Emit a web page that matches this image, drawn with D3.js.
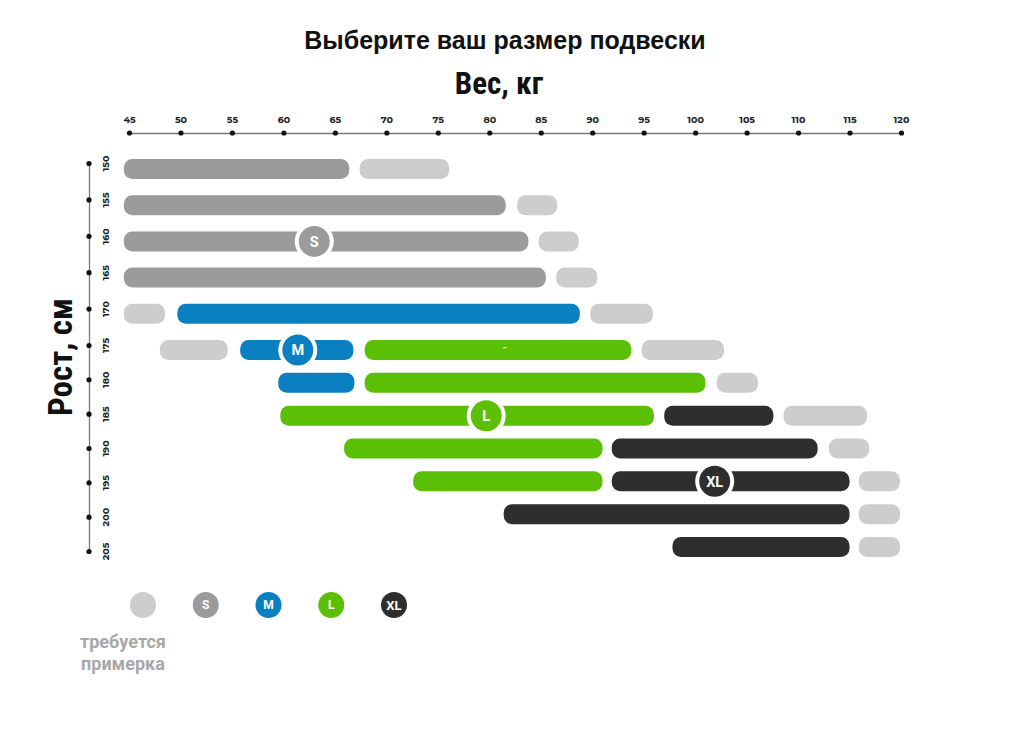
<!DOCTYPE html>
<html><head><meta charset="utf-8">
<script src="https://cdn.jsdelivr.net/npm/d3@7"></script>
<style>html,body{margin:0;padding:0;background:#fff;}svg{display:block;}</style>
</head><body>
<svg id="chart" width="1024" height="743"></svg>
<script>
// ---- data ----
const titleText = "Выберите ваш размер подвески";
const xTitle = "Вес, кг";
const yTitle = "Рост, см";
const weightTicks = [45,50,55,60,65,70,75,80,85,90,95,100,105,110,115,120];
const heightTicks = [150,155,160,165,170,175,180,185,190,195,200,205];
// segments: [height, startKg, endKg]
const fitSegs = [[150,67.4,76.1],[155,82.7,86.6],[160,84.8,88.7],[165,86.5,90.5],[170,44.5,48.5],[170,89.8,95.9],
  [175,48.0,54.6],[175,94.8,102.8],[180,102.1,106.1],[185,108.6,116.7],[190,113.0,116.9],[195,115.9,119.9],[200,115.9,119.9],[205,115.9,119.9]];
const sSegs = [[150,44.5,66.4],[155,44.5,81.6],[160,44.5,83.8],[165,44.5,85.5]];
const mSegs = [[170,49.7,88.8],[175,55.8,66.8],[180,59.5,66.9]];
const lSegs = [[175,67.9,93.8],[180,67.9,101.0],[185,59.7,96.0],[190,65.9,91.0],[195,72.6,91.0]];
const xlSegs = [[185,97.0,107.6],[190,91.9,111.9],[195,91.9,115.0],[200,81.4,115.0],[205,97.8,115.0]];
const badges = [[160,63.0,"S"],[175,61.4,"M"],[185,79.7,"L"],[195,101.9,"XL"]];
const legendKeys = ["fit","S","M","L","XL"];
const legendLabels = ["","S","M","L","XL"];
const fitNote = ["требуется","примерка"];

const colors = {fit:"#cdcdcd", S:"#9b9b9b", M:"#0b80c1", L:"#5bbf06", XL:"#2e2e2e"};

// ---- scales ----
const svg = d3.select("#chart");
const x = d3.scaleLinear().domain([45,120]).range([129,901]);
const yBar = d3.scaleLinear().domain([150,175,205]).range([169,350,547]);
const yTick = d3.scaleLinear().domain([150,175,205]).range([163,345,551]);
const narrow = "'Liberation Sans Narrow','Arial Narrow','Roboto Condensed',Roboto,sans-serif";

// title
svg.append("text").attr("x",505).attr("y",49).attr("text-anchor","middle")
  .attr("font-family","'Liberation Sans',Arial,sans-serif").attr("font-weight","bold").attr("font-size",25)
  .attr("fill","#111").text(titleText);
svg.append("text").attr("x",499).attr("y",94).attr("text-anchor","middle")
  .attr("font-family",narrow).attr("font-weight","bold").attr("font-size",31)
  .attr("fill","#111").text(xTitle);
svg.append("text").attr("transform","translate(72,357) rotate(-90)").attr("text-anchor","middle")
  .attr("font-family",narrow).attr("font-weight","bold").attr("font-size",33)
  .attr("fill","#111").text(yTitle);

// top axis
const xAxis = d3.axisTop(x).tickValues(weightTicks).tickSize(0).tickPadding(10);
const gx = svg.append("g").attr("transform","translate(0,133)").call(xAxis);
gx.select(".domain").attr("stroke","#777").attr("stroke-width",1.3);
gx.selectAll("text").attr("font-family","Montserrat,'Open Sans',sans-serif").attr("font-weight","bold")
  .attr("font-size",9.5).attr("fill","#222");
gx.selectAll(".tick").append("circle").attr("r",2.6).attr("fill","#111");

// left axis
const yAxis = d3.axisLeft(yTick).tickValues(heightTicks).tickSize(0).tickFormat("");
const gy = svg.append("g").attr("transform","translate(89,0)").call(yAxis);
gy.select(".domain").attr("stroke","#777").attr("stroke-width",1.3);
gy.selectAll(".tick").append("circle").attr("r",2.6).attr("fill","#111");
gy.selectAll(".tick").append("text").attr("transform","translate(17,0) rotate(-90)")
  .attr("text-anchor","middle").attr("dy","0.35em")
  .attr("font-family","Montserrat,'Open Sans',sans-serif").attr("font-weight","bold")
  .attr("font-size",9.5).attr("fill","#222").text(d=>d);

// bars
const groups = [["fit",fitSegs],["S",sSegs],["M",mSegs],["L",lSegs],["XL",xlSegs]];
const barH = 20;
groups.forEach(([k,segs])=>{
  svg.append("g").selectAll("rect").data(segs).join("rect")
    .attr("x",d=>x(d[1])).attr("width",d=>x(d[2])-x(d[1]))
    .attr("y",d=>yBar(d[0])-barH/2).attr("height",barH)
    .attr("rx",8.5).attr("fill",colors[k]);
});
// small stray mark on L bar
svg.append("text").attr("x",x(81.5)).attr("y",yBar(175)).attr("dy","0.1em").attr("text-anchor","middle")
  .attr("font-size",10).attr("font-weight","bold").attr("fill","#fff").attr("font-family","Roboto,sans-serif").text("-");

// badges
const bg = svg.append("g").selectAll("g").data(badges).join("g")
  .attr("transform",d=>`translate(${x(d[1])},${yBar(d[0])})`);
bg.append("circle").attr("r",19.5).attr("fill","#fff");
bg.append("circle").attr("r",15.5).attr("fill",d=>colors[d[2]]);
bg.append("text").attr("text-anchor","middle").attr("dy","0.36em")
  .attr("font-family","Roboto,sans-serif").attr("font-weight","bold").attr("font-size",14.5)
  .attr("fill","#fff").text(d=>d[2]);

// legend
const lx = d3.scalePoint().domain(legendKeys).range([143,394]);
const lg = svg.append("g").selectAll("g").data(legendKeys).join("g")
  .attr("transform",d=>`translate(${lx(d)},605)`);
lg.append("circle").attr("r",13).attr("fill",d=>colors[d]);
lg.append("text").attr("text-anchor","middle").attr("dy","0.36em")
  .attr("font-family","Roboto,sans-serif").attr("font-weight","bold").attr("font-size",d=>d==="XL"?13:12)
  .attr("fill","#fff").text((d,i)=>legendLabels[i]);
svg.append("g").selectAll("text").data(fitNote).join("text")
  .attr("x",123).attr("y",(d,i)=>648+i*22).attr("text-anchor","middle")
  .attr("font-family","Roboto,sans-serif").attr("font-weight","bold").attr("font-size",18)
  .attr("fill","#a8a8a8").text(d=>d);
</script>
</body></html>
